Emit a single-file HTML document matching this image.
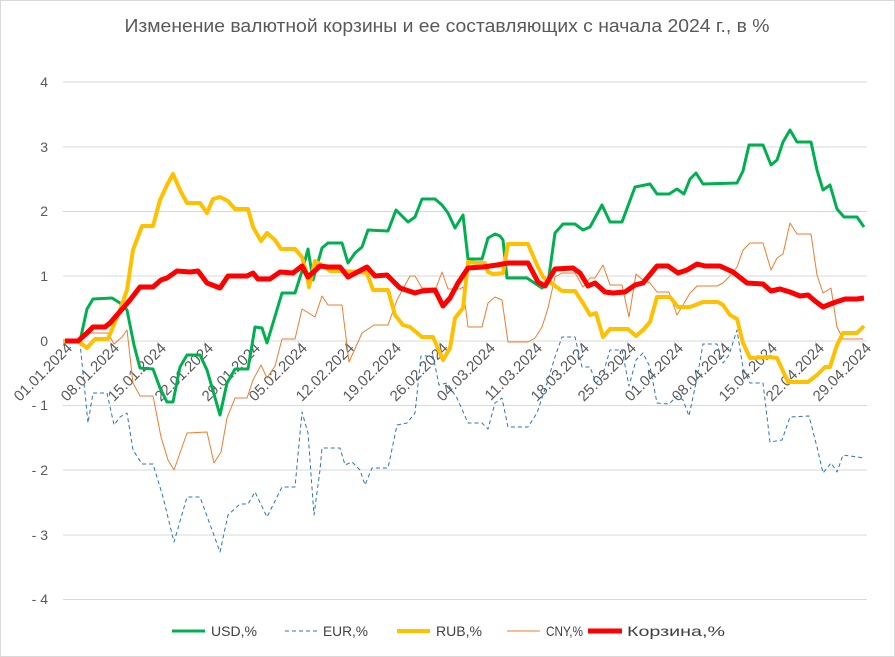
<!DOCTYPE html>
<html><head><meta charset="utf-8"><style>
body{margin:0;background:#fff}
svg{display:block;font-family:"Liberation Sans",sans-serif}
</style></head><body>
<svg width="895" height="657" viewBox="0 0 895 657" xmlns="http://www.w3.org/2000/svg">
<rect x="0.5" y="0.5" width="894" height="656" fill="#fff" stroke="#d9d9d9"/>
<text x="447" y="32" text-anchor="middle" font-size="18.5" fill="#595959" textLength="645" lengthAdjust="spacingAndGlyphs">Изменение валютной корзины и ее составляющих с начала 2024 г., в %</text>
<g stroke="#d9d9d9" stroke-width="1">
<line x1="63" x2="867" y1="82" y2="82"/><line x1="63" x2="867" y1="147" y2="147"/>
<line x1="63" x2="867" y1="211.5" y2="211.5"/><line x1="63" x2="867" y1="276" y2="276"/>
<line x1="63" x2="867" y1="341" y2="341"/><line x1="63" x2="867" y1="405.5" y2="405.5"/>
<line x1="63" x2="867" y1="470" y2="470"/><line x1="63" x2="867" y1="535" y2="535"/>
<line x1="63" x2="867" y1="599.5" y2="599.5"/>
</g>
<g stroke="#d9d9d9"><line x1="63.5" x2="63.5" y1="341" y2="346"/><line x1="110.5" x2="110.5" y1="341" y2="346"/><line x1="157.5" x2="157.5" y1="341" y2="346"/><line x1="204.5" x2="204.5" y1="341" y2="346"/><line x1="251.5" x2="251.5" y1="341" y2="346"/><line x1="298.5" x2="298.5" y1="341" y2="346"/><line x1="345.5" x2="345.5" y1="341" y2="346"/><line x1="392.5" x2="392.5" y1="341" y2="346"/><line x1="439.5" x2="439.5" y1="341" y2="346"/><line x1="486.5" x2="486.5" y1="341" y2="346"/><line x1="533.5" x2="533.5" y1="341" y2="346"/><line x1="580.5" x2="580.5" y1="341" y2="346"/><line x1="627.5" x2="627.5" y1="341" y2="346"/><line x1="674.5" x2="674.5" y1="341" y2="346"/><line x1="721.5" x2="721.5" y1="341" y2="346"/><line x1="768.5" x2="768.5" y1="341" y2="346"/><line x1="815.5" x2="815.5" y1="341" y2="346"/><line x1="862.5" x2="862.5" y1="341" y2="346"/></g>
<g font-size="14" fill="#595959" text-anchor="end">
<text x="48" y="87">4</text><text x="48" y="152">3</text><text x="48" y="216">2</text><text x="48" y="281">1</text><text x="48" y="346">0</text>
<text x="48" y="410">- 1</text><text x="48" y="475">- 2</text><text x="48" y="540">- 3</text><text x="48" y="604">- 4</text>
</g>
<g font-size="15" fill="#595959" text-anchor="end">
<text transform="translate(73,349) rotate(-45)">01.01.2024</text>
<text transform="translate(120,349) rotate(-45)">08.01.2024</text>
<text transform="translate(167,349) rotate(-45)">15.01.2024</text>
<text transform="translate(214,349) rotate(-45)">22.01.2024</text>
<text transform="translate(261,349) rotate(-45)">29.01.2024</text>
<text transform="translate(308,349) rotate(-45)">05.02.2024</text>
<text transform="translate(355,349) rotate(-45)">12.02.2024</text>
<text transform="translate(402,349) rotate(-45)">19.02.2024</text>
<text transform="translate(449,349) rotate(-45)">26.02.2024</text>
<text transform="translate(496,349) rotate(-45)">04.03.2024</text>
<text transform="translate(543,349) rotate(-45)">11.03.2024</text>
<text transform="translate(590,349) rotate(-45)">18.03.2024</text>
<text transform="translate(637,349) rotate(-45)">25.03.2024</text>
<text transform="translate(684,349) rotate(-45)">01.04.2024</text>
<text transform="translate(731,349) rotate(-45)">08.04.2024</text>
<text transform="translate(778,349) rotate(-45)">15.04.2024</text>
<text transform="translate(825,349) rotate(-45)">22.04.2024</text>
<text transform="translate(872,349) rotate(-45)">29.04.2024</text>
</g>
<g fill="none" stroke-linejoin="round">
<polyline stroke="#2e75b6" stroke-width="1" stroke-dasharray="4,3" points="65,341 80,343 88,423 93,393 107,393 114,425 120,417 127,413 133,450 142,464 153,464 163,497 174,542 187,497 200,497 220,552 228,515 240,504 248,504 255,492 267,517 282,487 295,487 302,412 308,433 314,515 320,470 322,448 340,448 345,465 352,462 360,470 365,485 372,468 388,468 397,425 407,423 415,413 421,356 433,356 439,385 447,383 457,398 468,423 482,423 488,429 495,403 502,398 508,427 528,427 537,413 547,383 555,357 562,337 575,337 582,367 590,367 596,383 602,377 610,350 622,350 629,386 636,360 643,353 650,367 657,403 669,404 677,396 683,400 689,416 697,378 703,344 717,344 723,363 729,355 737,330 743,368 750,383 763,383 770,442 782,440 790,417 809,416 817,447 823,473 831,463 837,472 843,455 864,458"/>
<polyline stroke="#ed7d31" stroke-width="1" points="65,341 78,341 87,333 108,333 114,344 122,337 127,330 133,383 140,396 153,396 161,437 168,460 174,470 187,433 207,432 214,463 221,452 227,418 235,398 247,398 253,380 261,365 267,378 275,366 282,339 295,339 302,309 307,312 315,317 322,296 328,305 342,305 349,362 362,333 374,325 388,325 397,300 410,276 415,276 422,288 436,288 442,272 448,289 460,289 463,287 468,327 482,327 488,303 495,297 502,300 508,342 528,342 535,338 542,327 548,308 555,277 562,273 575,273 583,287 590,278 595,278 603,265 610,285 622,285 629,317 636,274 643,280 650,283 657,292 669,292 677,315 683,305 690,293 697,286 717,286 723,283 729,277 737,267 743,250 750,243 763,243 771,270 777,258 783,254 790,223 797,234 811,234 817,275 823,293 831,288 837,327 843,339 863,339"/>
<polyline stroke="#00b050" stroke-width="3" points="65,341 80,341 87,309 93,299 112,298 120,303 127,310 134,345 140,368 153,369 160,388 167,402 173,402 180,367 187,355 200,355 207,370 220,415 227,383 235,369 248,369 255,327 262,328 267,343 273,323 282,293 295,293 303,268 308,249 313,280 322,248 328,243 342,243 348,263 355,253 362,247 368,230 388,231 396,210 408,222 415,217 422,199 435,199 442,205 448,213 455,228 463,215 468,259 482,259 488,238 495,234 500,236 503,240 507,278 527,278 542,288 548,283 555,233 563,224 575,224 583,230 590,227 602,205 610,222 622,222 635,187 650,184 657,194 669,194 677,189 684,194 690,179 696,173 703,184 737,183 743,171 749,145 763,145 771,165 777,160 783,142 790,130 797,142 811,142 817,170 823,190 830,185 837,209 844,217 857,217 864,227"/>
<polyline stroke="#ffc000" stroke-width="4" points="63,341 78,341 87,348 95,339 108,339 120,310 127,290 133,250 142,226 153,226 160,200 167,185 173,174 180,190 187,203 200,203 207,213 213,199 220,197 228,201 235,209 248,209 253,227 261,241 267,233 275,240 281,249 295,249 302,257 307,275 309,287 315,261 325,267 330,271 342,271 360,272 367,273 373,290 388,290 395,315 403,325 410,327 422,337 433,337 443,360 450,348 455,318 463,308 468,262 477,263 485,263 488,272 493,274 503,273 508,244 528,244 537,265 543,277 562,291 575,291 583,303 590,315 596,313 603,337 610,329 628,329 636,336 643,330 650,322 657,297 670,297 678,307 690,307 703,302 718,302 723,305 730,315 737,319 743,343 750,358 770,357 777,358 788,382 808,382 817,375 825,367 830,367 837,345 843,333 857,333 864,326"/>
<polyline stroke="#ff0000" stroke-width="5" points="65,341 78,341 87,333 93,327 105,327 110,323 130,300 140,287 153,287 161,280 167,278 177,271 190,272 198,271 207,283 220,288 228,276 247,276 253,273 258,279 270,279 280,272 293,273 302,266 308,277 320,266 328,267 340,267 348,277 367,267 375,276 387,275 400,288 415,293 422,291 435,290 443,306 450,298 458,283 468,268 483,267 497,265 508,263 528,263 538,282 545,286 555,269 573,268 580,273 588,286 595,283 605,292 613,293 625,292 635,285 643,283 657,266 668,266 678,273 687,270 697,264 705,266 720,266 733,272 747,283 763,284 771,291 780,289 790,292 800,296 808,295 815,301 823,307 833,303 845,299 857,299 864,298"/>
</g>
<g font-size="14" fill="#404040">
<line x1="172" x2="205" y1="631" y2="631" stroke="#00b050" stroke-width="3"/><text x="211" y="636" textLength="46" lengthAdjust="spacingAndGlyphs">USD,%</text>
<line x1="285" x2="318" y1="631" y2="631" stroke="#2e75b6" stroke-width="1" stroke-dasharray="4,3"/><text x="323" y="636" textLength="45" lengthAdjust="spacingAndGlyphs">EUR,%</text>
<line x1="397" x2="430" y1="631" y2="631" stroke="#ffc000" stroke-width="4"/><text x="436" y="636" textLength="46" lengthAdjust="spacingAndGlyphs">RUB,%</text>
<line x1="507" x2="540" y1="631" y2="631" stroke="#ed7d31" stroke-width="1"/><text x="546" y="636" textLength="37" lengthAdjust="spacingAndGlyphs">CNY,%</text>
<line x1="588" x2="622" y1="631" y2="631" stroke="#ff0000" stroke-width="5"/><text x="627" y="636" textLength="98" lengthAdjust="spacingAndGlyphs">Корзина,%</text>
</g>
</svg>
</body></html>
